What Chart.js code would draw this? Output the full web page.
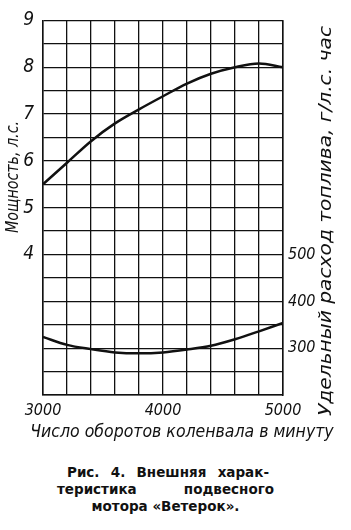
<!DOCTYPE html>
<html>
<head>
<meta charset="utf-8">
<script src="https://cdn.jsdelivr.net/npm/chart.js@4"></script>
<style>
    body { margin: 0; background: #fff; }
    #wrap { position: relative; width: 351px; height: 530px; }
    #chart-box { position: absolute; left: 0; top: 0; width: 351px; height: 445px; }
    .caption { position: absolute; left: 57px; width: 217px; top: 464px; font: bold 13.5px "DejaVu Sans", sans-serif; color: #111; line-height: 17px; }
    .caption div { display: flex; justify-content: space-between; }
    .caption div.first { padding: 0 5px 0 10px; }
    .caption div.last { justify-content: center; }
</style>
</head>
<body>
<div id="wrap">
    <div id="chart-box"><canvas id="chartMotor"></canvas></div>
    <div class="caption">
        <div class="first"><span>Рис.</span><span>4.</span><span>Внешняя</span><span>харак-</span></div>
        <div><span>теристика</span><span>подвесного</span></div>
        <div class="last"><span>мотора «Ветерок».</span></div>
    </div>
</div>
<script>
// обороты коленвала, об/мин
const rpm = [3000, 3200, 3400, 3600, 3800, 4000, 4200, 4400, 4600, 4800, 5000];
// мощность, л.с.
const power = [5.5, 5.96, 6.42, 6.8, 7.1, 7.38, 7.65, 7.86, 8.0, 8.08, 8.0];
// удельный расход топлива, г/л.с. час
const fuel = [324, 307, 298, 291, 289, 291, 297, 305, 319, 336, 354];

const powerLabels = [4, 5, 6, 7, 8, 9];
const fuelLabels = [300, 400, 500];
const rpmLabels = [3000, 4000, 5000];

const fontFamily = '"Liberation Sans Narrow", "DejaVu Sans Condensed", sans-serif';

// rotated text, stretched along its length to a given size
function drawVertical(ctx, text, x, y, font, len) {
    ctx.save();
    ctx.font = font;
    ctx.translate(x, y);
    ctx.rotate(-Math.PI / 2);
    if (len) {
        const w = ctx.measureText(text).width;
        ctx.scale(len / w, 1);
    }
    ctx.fillText(text, 0, 0);
    ctx.restore();
}

const axisTitles = {
    id: 'axisTitles',
    afterDraw(chart) {
        const ctx = chart.ctx;
        const a = chart.chartArea;
        ctx.save();
        ctx.fillStyle = '#111';
        ctx.textAlign = 'center';
        ctx.textBaseline = 'middle';

        drawVertical(ctx, 'Мощность, л.с.', 14, 177, 'italic 17px ' + fontFamily, 112);
        drawVertical(ctx, 'Удельный расход топлива, г/л.с. час', 326, 221, 'italic 18.5px ' + fontFamily, 390);

        ctx.font = 'italic 17.5px ' + fontFamily;
        ctx.fillText('Число оборотов коленвала в минуту', 182, a.bottom + 37);
        ctx.restore();
    }
};

new Chart(document.getElementById('chartMotor'), {
    type: 'line',
    data: {
        datasets: [
            {
                label: 'Мощность',
                data: rpm.map((r, i) => ({ x: r, y: power[i] })),
                yAxisID: 'y',
                borderColor: '#111',
                borderWidth: 2.5,
                pointRadius: 0,
                cubicInterpolationMode: 'monotone'
            },
            {
                label: 'Расход',
                data: rpm.map((r, i) => ({ x: r, y: fuel[i] })),
                yAxisID: 'y2',
                borderColor: '#111',
                borderWidth: 2.5,
                pointRadius: 0,
                cubicInterpolationMode: 'monotone'
            }
        ]
    },
    plugins: [axisTitles],
    options: {
        responsive: true,
        maintainAspectRatio: false,
        animation: false,
        layout: { padding: { top: 16, left: 0, right: 0, bottom: 0 } },
        plugins: { legend: { display: false }, tooltip: { enabled: false } },
        scales: {
            x: {
                type: 'linear',
                min: 3000,
                max: 5000,
                afterFit: s => { s.height = 50; },
                grid: { color: '#111', lineWidth: 1.3, drawTicks: false },
                border: { color: '#111', width: 1.5 },
                ticks: {
                    stepSize: 200,
                    autoSkip: false,
                    maxRotation: 0,
                    padding: 6,
                    color: '#111',
                    font: { family: fontFamily, size: 16, style: 'italic' },
                    callback: v => rpmLabels.includes(v) ? String(v) : ''
                }
            },
            y: {
                position: 'left',
                min: 1,
                max: 9,
                afterFit: s => { s.width = 43; },
                grid: { color: '#111', lineWidth: 1.3, drawTicks: false },
                border: { color: '#111', width: 1.5 },
                ticks: {
                    stepSize: 0.5,
                    autoSkip: false,
                    padding: 9,
                    color: '#111',
                    font: { family: fontFamily, size: 19, style: 'italic' },
                    callback: v => powerLabels.includes(v) ? String(v) : ''
                }
            },
            y2: {
                position: 'right',
                min: 200,
                max: 1000,
                afterFit: s => { s.width = 68; },
                grid: { display: false, drawTicks: false },
                border: { color: '#111', width: 1.5 },
                ticks: {
                    stepSize: 50,
                    autoSkip: false,
                    padding: 5,
                    color: '#111',
                    font: { family: fontFamily, size: 16, style: 'italic' },
                    callback: v => fuelLabels.includes(v) ? String(v) : ''
                }
            }
        }
    }
});
</script>
</body>
</html>
